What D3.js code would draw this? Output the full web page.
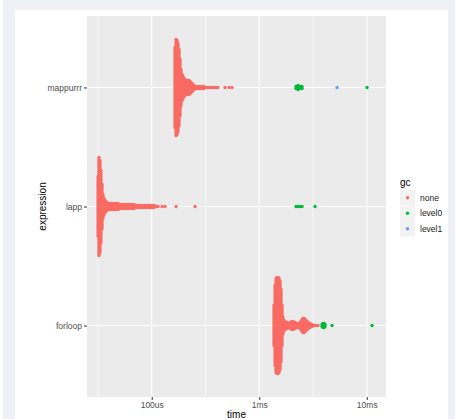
<!DOCTYPE html>
<html>
<head>
<meta charset="utf-8">
<script src="https://cdn.jsdelivr.net/npm/d3@7"></script>
<style>
  body { margin: 0; background: #fff; }
  text { font-family: "Liberation Sans", Arial, sans-serif; }
</style>
</head>
<body>
<svg id="chart" width="455" height="419"></svg>
<script>
// expressions, top to bottom
const expressions = ['mappurrr', 'lapp', 'forloop']
const gcLevels = ['none', 'level0', 'level1']
const gcColors = ['#F96B64', '#00BA38', '#619CFF']

// swarm columns: [time in us, number of points, gc level]
const mappurrrCols = [
  [164.7, 41, 'none'], [168.3, 49, 'none'], [171.9, 48, 'none'], [175.6, 45, 'none'],
  [179.4, 39, 'none'], [183.3, 29, 'none'], [187.2, 19, 'none'], [191.3, 14, 'none'],
  [195.4, 12, 'none'], [199.6, 10, 'none'], [203.9, 9, 'none'], [208.3, 8, 'none'],
  [212.8, 7, 'none'], [217.4, 8, 'none'], [222.1, 8, 'none'], [226.9, 7, 'none'],
  [231.8, 6, 'none'], [236.8, 5, 'none'], [241.9, 4, 'none'], [247.1, 3, 'none'],
  [257.9, 2, 'none'], [269.1, 2, 'none'], [280.9, 2, 'none'], [293.2, 2, 'none'],
  [306, 2, 'none'], [319, 1, 'none'], [333, 1, 'none'], [348, 1, 'none'],
  [363, 1, 'none'], [379, 1, 'none'], [395, 1, 'none'], [412, 1, 'none'],
  [480, 1, 'none'], [523, 1, 'none'], [558, 1, 'none'],
  [2199, 2, 'level0'], [2295, 3, 'level0'], [2395, 2, 'level0'], [2499, 2, 'level0'],
  [5293, 1, 'level1'], [10065, 1, 'level0']
]
const lappCols = [
  [31.7, 31, 'none'], [32.3, 50, 'none'], [33.0, 47, 'none'], [33.7, 37, 'none'],
  [34.5, 23, 'none'], [35.2, 13, 'none'], [36.0, 9, 'none'], [36.7, 7, 'none'],
  [37.5, 6, 'none'], [38.3, 5, 'none'], [39.2, 4, 'none'], [40.9, 4, 'none'],
  [42.7, 4, 'none'], [44.6, 4, 'none'], [46.5, 4, 'none'], [48.6, 4, 'none'],
  [50.7, 3, 'none'], [52.9, 3, 'none'], [55.2, 3, 'none'], [57.7, 3, 'none'],
  [60.2, 3, 'none'], [62.8, 3, 'none'], [65.6, 3, 'none'], [68.5, 3, 'none'],
  [71.5, 2, 'none'], [74.6, 2, 'none'], [77.9, 2, 'none'], [81.3, 2, 'none'],
  [84.8, 2, 'none'], [88.6, 2, 'none'], [92.4, 2, 'none'], [96.5, 2, 'none'],
  [100.7, 2, 'none'], [105, 2, 'none'], [109.7, 1, 'none'], [114.5, 1, 'none'],
  [124.7, 1, 'none'], [133, 1, 'none'], [168.4, 1, 'none'], [253, 1, 'none'],
  [2199, 1, 'level0'], [2295, 1, 'level0'], [2395, 1, 'level0'], [2499, 1, 'level0'],
  [3304, 1, 'level0']
]
const forloopCols = [
  [1373, 21, 'none'], [1403, 41, 'none'], [1433, 48, 'none'], [1464, 49, 'none'],
  [1496, 49, 'none'], [1529, 48, 'none'], [1562, 45, 'none'], [1595, 37, 'none'],
  [1630, 21, 'none'], [1665, 9, 'none'], [1701, 6, 'none'], [1738, 5, 'none'],
  [1776, 4, 'none'], [1814, 4, 'none'], [1853, 3, 'none'], [1893, 3, 'none'],
  [1934, 4, 'none'], [1976, 4, 'none'], [2019, 5, 'none'], [2063, 5, 'none'],
  [2107, 4, 'none'], [2153, 4, 'none'], [2199, 3, 'none'], [2247, 3, 'none'],
  [2296, 3, 'none'], [2345, 3, 'none'], [2396, 4, 'none'], [2448, 5, 'none'],
  [2501, 7, 'none'], [2555, 8, 'none'], [2610, 8, 'none'], [2667, 7, 'none'],
  [2724, 6, 'none'], [2784, 5, 'none'], [2844, 4, 'none'], [2969, 3, 'none'],
  [3098, 2, 'none'], [3235, 1, 'none'], [3376, 1, 'none'], [3524, 1, 'none'],
  [3839, 2, 'level0'], [3922, 3, 'level0'], [4007, 3, 'level0'], [4094, 2, 'level0'],
  [4756, 1, 'level0'], [11200, 1, 'level0']
]
const columnsByExpr = { mappurrr: mappurrrCols, lapp: lappCols, forloop: forloopCols }

const majorTicks = [100, 1000, 10000]
const majorLabels = ['100us', '1ms', '10ms']
const minorTicks = [31.62, 316.2, 3162]

const W = 455, H = 419
const panel = { left: 87, right: 386, top: 16, bottom: 397 }
const svg = d3.select('#chart')

// page frame
svg.append('rect').attr('width', W).attr('height', H).attr('fill', '#fff')
svg.append('rect').attr('x', 3).attr('y', 0).attr('width', W - 3).attr('height', H).attr('fill', '#eff1f6')
svg.append('rect').attr('x', 15).attr('y', 10).attr('width', 433).attr('height', H - 10).attr('fill', '#fff')

const x = d3.scaleLog().domain([25, 15100]).range([panel.left, panel.right])
const y = d3.scalePoint().domain(expressions).range([panel.top, panel.bottom]).padding(0.6)
const color = d3.scaleOrdinal().domain(gcLevels).range(gcColors)

svg.append('rect')
  .attr('x', panel.left).attr('y', panel.top)
  .attr('width', panel.right - panel.left).attr('height', panel.bottom - panel.top)
  .attr('fill', '#ebebeb')

const grid = svg.append('g')
grid.selectAll('.minor').data(minorTicks).enter().append('line')
  .attr('x1', d => x(d)).attr('x2', d => x(d))
  .attr('y1', panel.top).attr('y2', panel.bottom)
  .attr('stroke', '#fff').attr('stroke-width', 0.6)
grid.selectAll('.major').data(majorTicks).enter().append('line')
  .attr('x1', d => x(d)).attr('x2', d => x(d))
  .attr('y1', panel.top).attr('y2', panel.bottom)
  .attr('stroke', '#fff').attr('stroke-width', 1.1)
grid.selectAll('.hmajor').data(expressions).enter().append('line')
  .attr('x1', panel.left).attr('x2', panel.right)
  .attr('y1', d => y(d)).attr('y2', d => y(d))
  .attr('stroke', '#fff').attr('stroke-width', 1.1)

// swarm layout: each column stacks its points around the expression line
const spacing = 2
const points = []
expressions.forEach(expr => {
  columnsByExpr[expr].forEach(([t, n, gc]) => {
    for (let i = 0; i < n; i++) {
      points.push({ expr, t, gc, off: (i - (n - 1) / 2) * spacing })
    }
  })
})
const order = { none: 0, level0: 1, level1: 2 }
points.sort((a, b) => order[a.gc] - order[b.gc])

svg.append('g').selectAll('circle').data(points).enter().append('circle')
  .attr('cx', d => x(d.t))
  .attr('cy', d => y(d.expr) + d.off)
  .attr('r', 1.7)
  .attr('fill', d => color(d.gc))

// axes
const xAxis = d3.axisBottom(x).tickValues(majorTicks)
  .tickFormat((d, i) => majorLabels[i]).tickSize(3).tickPadding(2)
const gx = svg.append('g').attr('transform', `translate(0,${panel.bottom})`).call(xAxis)
const yAxis = d3.axisLeft(y).tickSize(3).tickPadding(2)
const gy = svg.append('g').attr('transform', `translate(${panel.left},0)`).call(yAxis)
;[gx, gy].forEach(g => {
  g.select('.domain').remove()
  g.selectAll('line').attr('stroke', '#333')
  g.selectAll('text').attr('fill', '#4d4d4d').style('font-size', '8.5px')
})

svg.append('text')
  .attr('x', (panel.left + panel.right) / 2).attr('y', 418)
  .attr('text-anchor', 'middle').style('font-size', '10px')
  .text('time')
svg.append('text')
  .attr('transform', `translate(46,${(panel.top + panel.bottom) / 2}) rotate(-90)`)
  .attr('text-anchor', 'middle').style('font-size', '10px')
  .text('expression')

// legend
const legend = svg.append('g').attr('transform', 'translate(400,0)')
legend.append('text').attr('x', 0).attr('y', 186).style('font-size', '10px').text('gc')
const keys = legend.selectAll('.key').data(gcLevels).enter().append('g')
  .attr('transform', (d, i) => `translate(0,${190 + i * 15.5})`)
keys.append('rect').attr('width', 15).attr('height', 15.5).attr('fill', '#f2f2f2')
keys.append('circle').attr('cx', 7.5).attr('cy', 7.75).attr('r', 1.7).attr('fill', d => color(d))
keys.append('text').attr('x', 20).attr('y', 10.7)
  .style('font-size', '8.5px').attr('fill', '#1a1a1a').text(d => d)
</script>
</body>
</html>
